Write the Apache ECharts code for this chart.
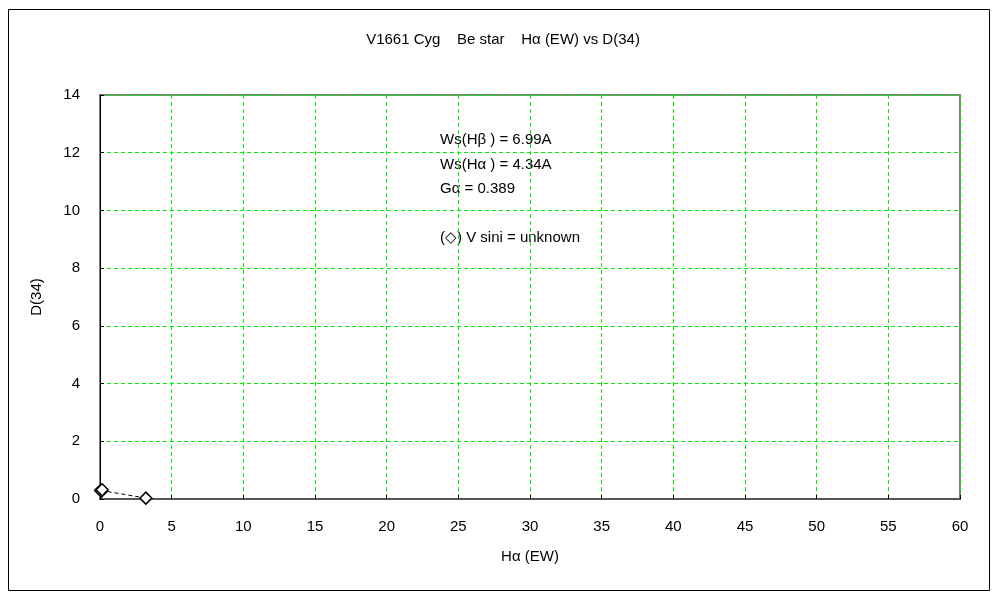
<!DOCTYPE html>
<html><head><meta charset="utf-8">
<script src="https://cdn.jsdelivr.net/npm/echarts@6/dist/echarts.min.js"></script>
<style>html,body{margin:0;padding:0;background:#fff}#c{width:1000px;height:600px}</style>
</head><body><div id="c"></div>
<script>
const titleText = 'V1661 Cyg    Be star    H\u03b1 (EW) vs D(34)';
const xName = 'H\u03b1 (EW)';
const yName = 'D(34)';
const haEW = [0.05, 0.1, 0.15, 3.2];
const d34 = [0.30, 0.27, 0.32, 0.03];
const notes = ['Ws(H\u03b2 ) = 6.99A', 'Ws(H\u03b1 ) = 4.34A', 'G\u03b1 = 0.389', '', '(\u25c7) V sini = unknown'];
const FONT = '"Liberation Sans", Arial, sans-serif';

const chart = echarts.init(document.getElementById('c'));
chart.setOption({
  animation: false,
  backgroundColor: '#fff',
  title: { text: titleText, left: 498, top: 27, textAlign: 'center',
    textStyle: { fontFamily: FONT, fontSize: 15, fontWeight: 'normal', color: '#000' } },
  grid: { left: 100, right: 40, top: 95, bottom: 101, show: true, borderColor: '#808080', borderWidth: 2, backgroundColor: 'transparent' },
  xAxis: { type: 'value', min: 0, max: 60, interval: 5, name: xName, nameLocation: 'middle', nameGap: 50,
    nameTextStyle: { fontFamily: FONT, fontSize: 15, color: '#000' },
    axisLine: { show: true, onZero: false, lineStyle: { color: '#555', width: 2 } },
    axisTick: { show: true, inside: true, length: 4, lineStyle: { color: '#000' } },
    axisLabel: { fontFamily: FONT, fontSize: 15, color: '#000', margin: 20 },
    splitLine: { show: true, lineStyle: { color: '#00ee00', type: [4, 3], width: 1 } } },
  yAxis: { type: 'value', min: 0, max: 14, interval: 2, name: yName, nameLocation: 'middle', nameGap: 56, nameRotate: 90,
    nameTextStyle: { fontFamily: FONT, fontSize: 15, color: '#000' },
    axisLine: { show: true, onZero: false, lineStyle: { color: '#000', width: 1 } },
    axisTick: { show: true, inside: true, length: 4, lineStyle: { color: '#000' } },
    axisLabel: { fontFamily: FONT, fontSize: 15, color: '#000', margin: 20 },
    splitLine: { show: true, lineStyle: { color: '#00ee00', type: [4, 3], width: 1 } } },
  series: [{
    type: 'line', data: haEW.map((x, i) => [x, d34[i]]),
    symbol: 'diamond', symbolSize: 12, showAllSymbol: true,
    lineStyle: { color: '#000', width: 1, type: [4, 3] },
    itemStyle: { color: '#fff', borderColor: '#000', borderWidth: 1.5 },
    clip: false, z: 5
  }],
  graphic: [
    { type: 'rect', shape: { x: 8.5, y: 9.5, width: 981, height: 581 }, style: { fill: 'none', stroke: '#000', lineWidth: 1 }, silent: true, z: -1 },
    { type: 'text', left: 440, top: 128, style: { text: notes.join('\n'), fontFamily: FONT, fontSize: 15, lineHeight: 24.5, fill: '#000' } }
  ]
});
</script></body></html>
